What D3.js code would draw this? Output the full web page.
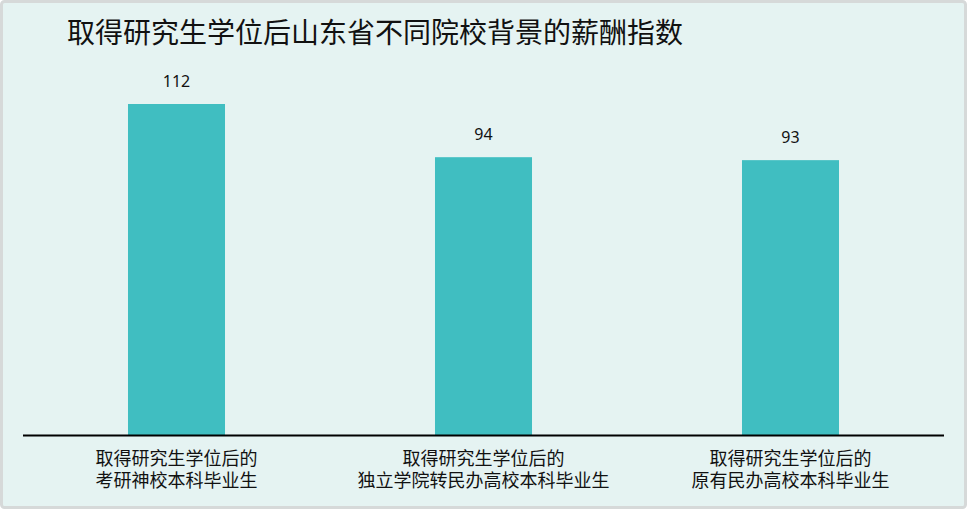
<!DOCTYPE html>
<html>
<head>
<meta charset="utf-8">
<script src="https://cdn.jsdelivr.net/npm/d3@7"></script>
<style>
  html, body { margin: 0; padding: 0; background: #fff; }
  svg { display: block; font-family: "Noto Sans CJK SC", "Noto Sans", sans-serif; }
</style>
</head>
<body>
<svg width="967" height="509"></svg>
<script>
// chart data
var title = "取得研究生学位后山东省不同院校背景的薪酬指数";
var categories = ["考研神校", "独立学院转民办高校", "原有民办高校"];
var labelLine1 = ["取得研究生学位后的", "取得研究生学位后的", "取得研究生学位后的"];
var labelLine2 = ["考研神校本科毕业生", "独立学院转民办高校本科毕业生", "原有民办高校本科毕业生"];
var values = [112, 94, 93];

var svg = d3.select("svg"),
    width = +svg.attr("width"),
    height = +svg.attr("height");

// background + frame
svg.append("rect")
  .attr("x", 1.5).attr("y", 1.5)
  .attr("width", width - 3).attr("height", height - 3)
  .attr("rx", 3)
  .attr("fill", "#e5f3f2")
  .attr("stroke", "#d6d9d9")
  .attr("stroke-width", 3);

var xScale = d3.scaleBand()
  .domain(categories)
  .range([23, 944])
  .paddingInner(0.684)
  .paddingOuter(0.342);

var yScale = d3.scaleLinear()
  .domain([0, 112])
  .range([435, 104]);

svg.append("text")
  .attr("x", 67).attr("y", 43)
  .attr("font-size", 28)
  .attr("fill", "#111")
  .text(title);

svg.selectAll(".bar")
  .data(values)
  .enter().append("rect")
  .attr("class", "bar")
  .attr("x", function(d, i) { return xScale(categories[i]); })
  .attr("y", function(d) { return yScale(d); })
  .attr("width", xScale.bandwidth())
  .attr("height", function(d) { return yScale(0) - yScale(d); })
  .attr("fill", "#40bec1");

svg.selectAll(".val")
  .data(values)
  .enter().append("text")
  .attr("class", "val")
  .attr("x", function(d, i) { return xScale(categories[i]) + xScale.bandwidth() / 2; })
  .attr("y", function(d) { return yScale(d) - 17; })
  .attr("text-anchor", "middle")
  .attr("font-family", "'Noto Sans', sans-serif")
  .attr("font-size", 16)
  .attr("fill", "#111")
  .text(function(d) { return d; });

// x axis line
svg.append("line")
  .attr("x1", 23).attr("x2", 944)
  .attr("y1", yScale(0) + 0.5).attr("y2", yScale(0) + 0.5)
  .attr("stroke", "#000")
  .attr("stroke-width", 2);

var lab = svg.selectAll(".cat")
  .data(categories)
  .enter().append("text")
  .attr("class", "cat")
  .attr("x", function(d) { return xScale(d) + xScale.bandwidth() / 2; })
  .attr("text-anchor", "middle")
  .attr("font-size", 18)
  .attr("fill", "#111");

lab.append("tspan")
  .attr("x", function(d) { return xScale(d) + xScale.bandwidth() / 2; })
  .attr("y", 465)
  .text(function(d, i) { return labelLine1[i]; });
lab.append("tspan")
  .attr("x", function(d) { return xScale(d) + xScale.bandwidth() / 2; })
  .attr("y", 487)
  .text(function(d, i) { return labelLine2[i]; });
</script>
</body>
</html>
